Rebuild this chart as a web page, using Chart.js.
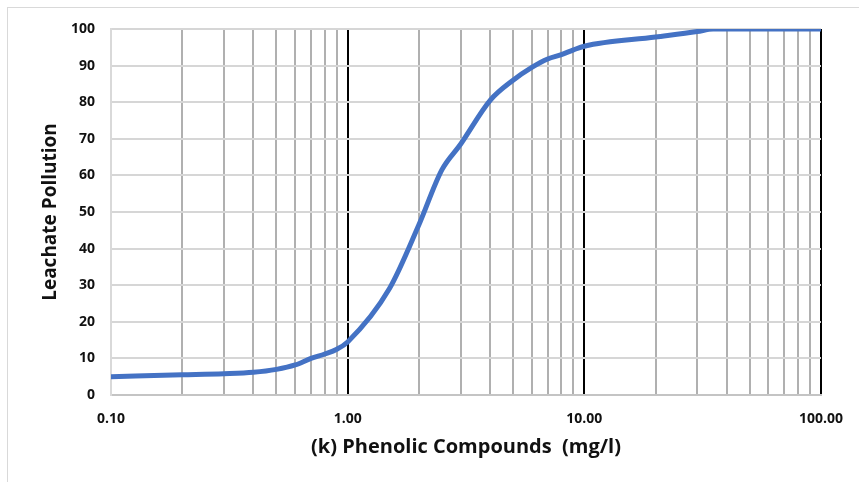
<!DOCTYPE html>
<html>
<head>
<meta charset="utf-8">
<script src="https://cdn.jsdelivr.net/npm/chart.js@4/dist/chart.umd.min.js"></script>
<style>
  html, body { margin: 0; padding: 0; background: #fff; overflow: hidden; }
  #frame { position: absolute; left: 7px; top: 7px; width: 900px; height: 520px; border: 1px solid #d9d9d9; }
  #wrap { position: absolute; left: 0; top: 0; width: 859px; height: 482px; }
</style>
</head>
<body>
<div id="frame"></div>
<div id="wrap"><canvas id="chart"></canvas></div>
<script>
// phenolic compounds (mg/l) vs leachate pollution
var concentration = [0.1, 0.2, 0.3, 0.4, 0.5, 0.6, 0.7, 0.8, 0.9, 1.0, 1.5, 2.0, 2.5, 3.0, 4.0, 5.0, 6.0, 7.0, 8.0, 9.0, 10, 20, 30, 35, 100]
var pollution     = [5.0, 5.5, 5.8, 6.2, 7.0, 8.2, 10.0, 11.2, 12.5, 14.5, 29, 46.5, 61.5, 68.5, 80.5, 86, 89.5, 91.8, 93, 94.3, 95.3, 97.8, 99.3, 100, 100]
var xTicks = [0.1, 0.2, 0.3, 0.4, 0.5, 0.6, 0.7, 0.8, 0.9, 1, 2, 3, 4, 5, 6, 7, 8, 9, 10, 20, 30, 40, 50, 60, 70, 80, 90, 100]
var xLabels = [0.1, 1, 10, 100]
var yTicks = [0, 10, 20, 30, 40, 50, 60, 70, 80, 90, 100]

var font = "'Open Sans', 'DejaVu Sans', sans-serif"

function isMajor(v) {
    return xLabels.some(function(d) { return Math.abs(d - v) < 1e-9 })
}

var points = concentration.map(function(c, i) { return {x: c, y: pollution[i]} })

new Chart(document.getElementById('chart'), {
    type: 'line',
    data: {
        datasets: [{
            data: points,
            borderColor: '#4472C4',
            borderWidth: 5,
            pointRadius: 0,
            fill: false,
            cubicInterpolationMode: 'monotone',
            borderCapStyle: 'round'
        }]
    },
    options: {
        responsive: true,
        maintainAspectRatio: false,
        animation: false,
        layout: { padding: { left: 0, right: 37, top: 29, bottom: 0 } },
        plugins: { legend: { display: false }, tooltip: { enabled: false } },
        scales: {
            x: {
                type: 'logarithmic',
                min: 0.1,
                max: 100,
                afterBuildTicks: function(scale) {
                    scale.ticks = xTicks.map(function(v) { return {value: v, major: isMajor(v)} })
                },
                afterFit: function(scale) { scale.height = 87 },
                ticks: {
                    autoSkip: false,
                    maxRotation: 0,
                    padding: 16,
                    color: '#111',
                    font: { family: font, size: 14, weight: 'bold' },
                    callback: function(v) { return isMajor(v) ? Number(v).toFixed(2) : '' }
                },
                grid: {
                    drawTicks: false,
                    lineWidth: 2,
                    color: function(ctx) {
                        var v = ctx.tick && ctx.tick.value
                        if (Math.abs(v - 0.1) < 1e-9) return '#d9d9d9'
                        return isMajor(v) ? '#000000' : '#b0b0b0'
                    }
                },
                border: { display: true, color: '#c4c4c4', width: 2 },
                title: {
                    display: true,
                    text: '(k) Phenolic Compounds  (mg/l)',
                    color: '#111',
                    font: { family: font, size: 20, weight: 'bold' },
                    padding: { top: 0, bottom: 23 }
                }
            },
            y: {
                min: 0,
                max: 100,
                afterBuildTicks: function(scale) {
                    scale.ticks = yTicks.map(function(v) { return {value: v} })
                },
                afterFit: function(scale) { scale.width = 111 },
                ticks: {
                    padding: 16,
                    color: '#111',
                    font: { family: font, size: 14, weight: 'bold' }
                },
                grid: { drawTicks: false, color: '#d6d6d6', lineWidth: 2 },
                border: { display: true, color: '#d9d9d9', width: 2 },
                title: {
                    display: true,
                    text: 'Leachate Pollution',
                    color: '#111',
                    font: { family: font, size: 19, weight: 'bold' },
                    padding: { top: 39, bottom: 0 }
                }
            }
        }
    }
})
</script>
</body>
</html>
